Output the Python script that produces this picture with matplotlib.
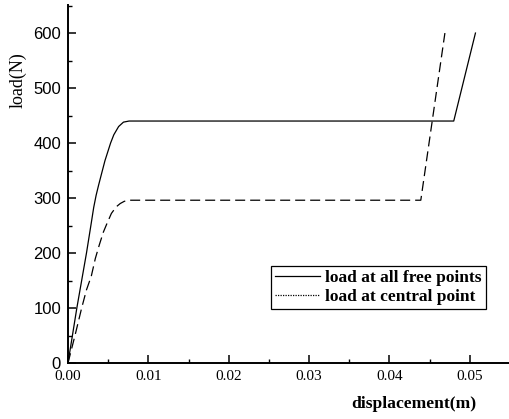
import matplotlib
matplotlib.use("Agg")
import matplotlib.pyplot as plt
from matplotlib.lines import Line2D
from matplotlib.ticker import MultipleLocator

# Data
disp_all = [0.0, 0.0011, 0.0017, 0.0023, 0.0029, 0.0032, 0.0035, 0.0038, 0.0041,
            0.0046, 0.0053, 0.0057, 0.0063, 0.0069, 0.0076, 0.0480, 0.0507]
load_all = [0, 100, 150, 200, 255, 283, 305, 323, 340,
            368, 400, 415, 430, 438, 440, 440, 600]

disp_central = [0.0, 0.00087, 0.0017, 0.0023, 0.0029, 0.0034, 0.0039, 0.0044, 0.0048,
                0.0054, 0.0060, 0.0065, 0.0070, 0.0076, 0.0439, 0.0469]
load_central = [0, 50, 100, 133, 158, 190, 215, 238, 252,
                272, 284, 290, 294, 296, 296, 600]

labels = ["load at all free points", "load at central point"]
x_ticks = [0.00, 0.01, 0.02, 0.03, 0.04, 0.05]
x_tick_labels = ["0.00", "0.01", "0.02", "0.03", "0.04", "0.05"]
y_ticks = [0, 100, 200, 300, 400, 500, 600]

fig = plt.figure(figsize=(5.10, 4.19), dpi=100)
ax = fig.add_axes([68/510, 1 - 363/419, (510-68)/510, (363-5)/419])

ax.plot(disp_all, load_all, color="black", lw=0.9, solid_joinstyle="round")
ax.plot(disp_central, load_central, color="black", lw=0.9, dashes=(8, 4))

ax.set_xlim(0, 0.055)
ax.set_ylim(0, 651)

ax.spines["top"].set_visible(False)
ax.spines["right"].set_visible(False)
for s in ("left", "bottom"):
    ax.spines[s].set_linewidth(1.4)

ax.set_xticks(x_ticks)
ax.set_xticklabels(x_tick_labels, family="Liberation Serif", fontsize=11)
ax.set_yticks(y_ticks)
ax.set_yticklabels([str(v) for v in y_ticks], family="Liberation Sans", fontsize=12)
ax.xaxis.set_minor_locator(MultipleLocator(0.005))
ax.yaxis.set_minor_locator(MultipleLocator(50))
ax.tick_params(which="major", direction="in", length=5.5, width=1.1)
ax.tick_params(which="minor", direction="in", length=3, width=1.0)
ax.tick_params(axis="y", which="both", pad=5)
ax.tick_params(axis="x", which="both", pad=5)

fig.text(414/510, 1 - 404/419, "displacement(m)", family="Liberation Serif",
         fontweight="bold", fontsize=12.6, ha="center", va="center")
fig.text(18/510, 1 - 80/419, "load(N)", family="Liberation Serif",
         fontsize=13, rotation=90, ha="center", va="center")

handles = [Line2D([], [], color="black", lw=0.9),
           Line2D([], [], color="black", lw=0.9, linestyle=(0, (1, 1)))]
leg = ax.legend(handles, labels, loc="lower left",
                bbox_to_anchor=((270.7-68)/442, (363-309.3)/358),
                prop={"family": "Liberation Serif", "weight": "bold", "size": 12.5},
                frameon=True, fancybox=False, edgecolor="black", framealpha=1,
                handlelength=2.6, handletextpad=0.3, borderpad=0.25,
                labelspacing=0.15, borderaxespad=0)
leg.get_frame().set_linewidth(0.9)

fig.savefig("out.png", dpi=100)
